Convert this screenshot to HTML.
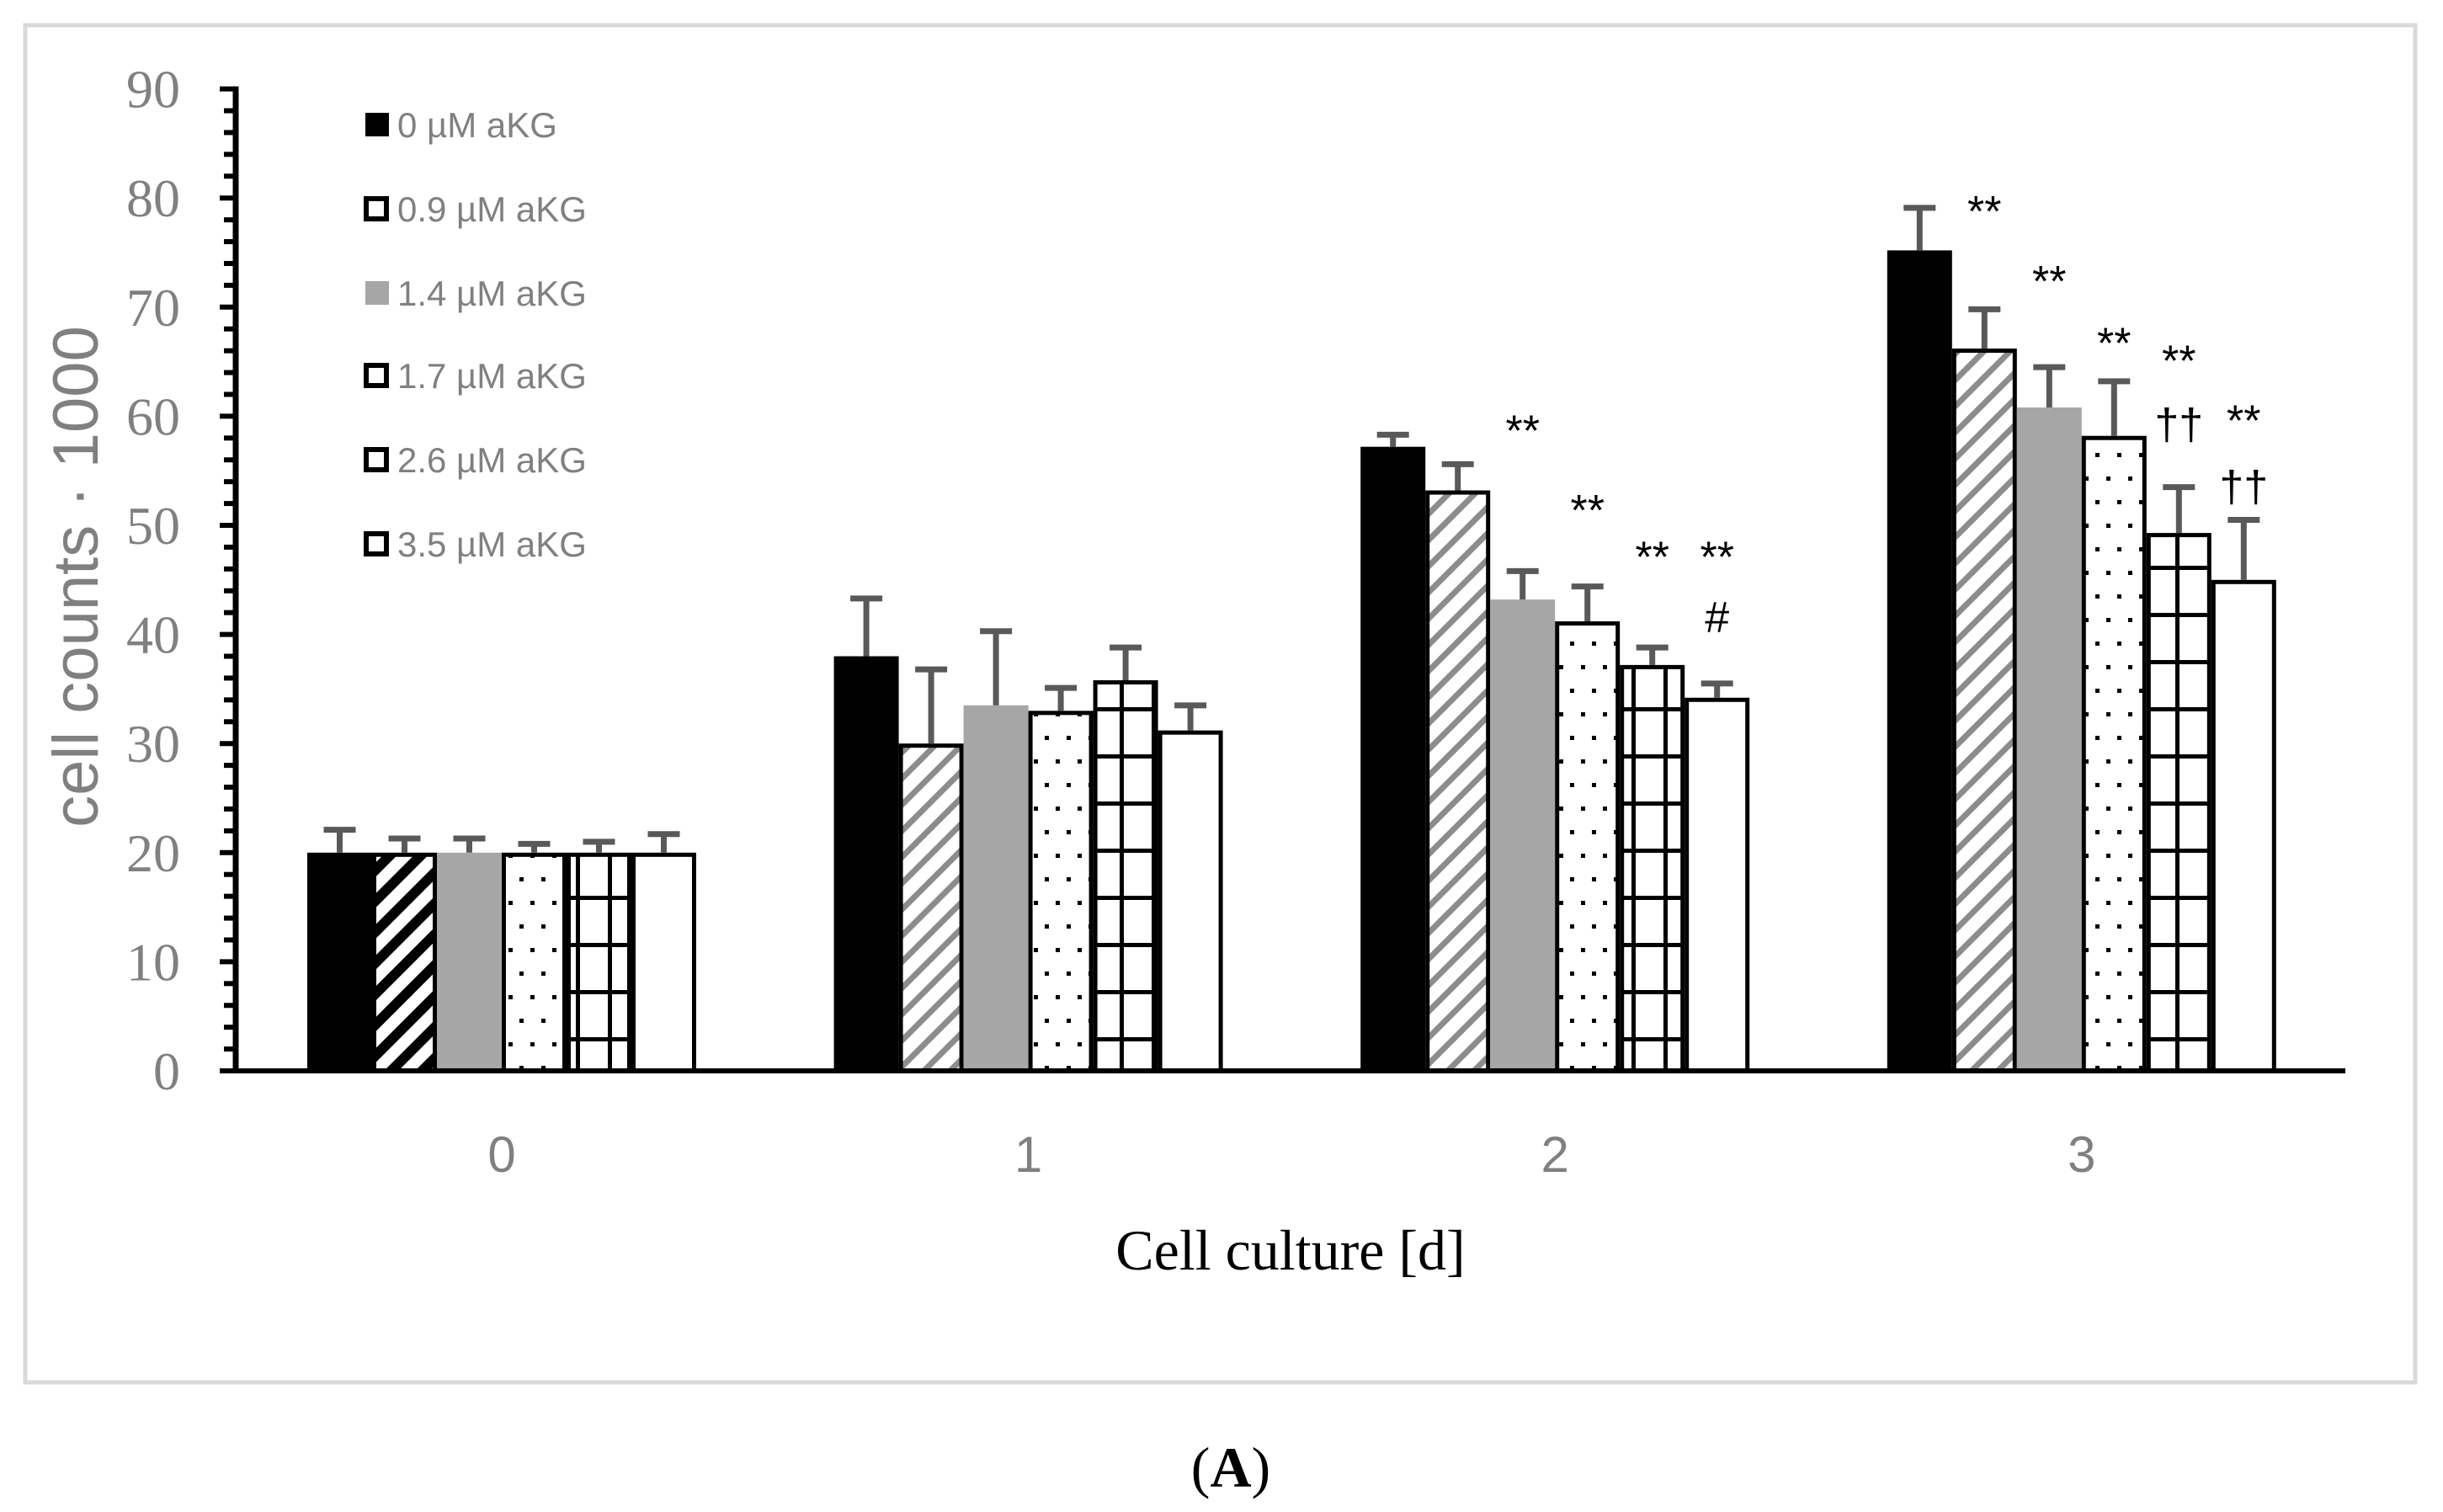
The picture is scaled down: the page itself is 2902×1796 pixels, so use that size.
<!DOCTYPE html>
<html><head><meta charset="utf-8"><style>
html,body{margin:0;padding:0;background:#fff;}
svg{display:block;}
</style></head><body>
<svg id="chart" width="2902" height="1796" viewBox="0 0 2902 1796" xmlns="http://www.w3.org/2000/svg">
<defs>
<pattern id="stripeBlack" patternUnits="userSpaceOnUse" width="26" height="26" patternTransform="rotate(45)"><rect width="26" height="26" fill="#fff"/><rect width="12" height="26" fill="#000"/></pattern>
<pattern id="stripeGray" patternUnits="userSpaceOnUse" width="22" height="22" patternTransform="rotate(45)"><rect width="22" height="22" fill="#fff"/><rect width="7" height="22" fill="#8c8c8c"/></pattern>
<pattern id="dots" patternUnits="userSpaceOnUse" width="26" height="56"><rect width="26" height="56" fill="#fff"/><rect x="6" y="6" width="5" height="5" fill="#000"/><rect x="19" y="34" width="5" height="5" fill="#000"/></pattern>
<pattern id="grid" patternUnits="userSpaceOnUse" width="38" height="56" x="0" y="0"><rect width="38" height="56" fill="#fff"/><rect x="0" y="0" width="5" height="56" fill="#000"/><rect x="0" y="0" width="38" height="5" fill="#000"/></pattern>
</defs>
<rect x="30" y="30" width="2839" height="1612" fill="#fff" stroke="#d9d9d9" stroke-width="5"/>
<g id="plot"></g>
<text x="1533" y="1508" font-family="Liberation Serif, serif" font-size="68" text-anchor="middle" fill="#000">Cell culture [d]</text>
<text x="96" y="685" font-family="Liberation Sans, sans-serif" font-size="76" text-anchor="middle" fill="#808080" transform="rotate(-90 96 685)" dominant-baseline="middle">cell counts · 1000</text>
<text x="1462" y="1766" font-family="Liberation Serif, serif" font-size="68" text-anchor="middle" fill="#000">(<tspan font-weight="bold">A</tspan>)</text>
</svg>
<script>
const categories = ["0","1","2","3"];
const seriesNames = ["0 µM aKG","0.9 µM aKG","1.4 µM aKG","1.7 µM aKG","2.6 µM aKG","3.5 µM aKG"];
const s0 = [20, 38, 57.2, 75.2];
const s1 = [20, 30, 53.2, 66.2];
const s2 = [20, 33.5, 43.2, 60.8];
const s3 = [20, 33, 41.2, 58.2];
const s4 = [20, 35.8, 37.2, 49.3];
const s5 = [20, 31.2, 34.2, 45];
const e0 = [22.1, 43.3, 58.3, 79.1];
const e1 = [21.3, 36.8, 55.6, 69.8];
const e2 = [21.3, 40.3, 45.8, 64.5];
const e3 = [20.8, 35.1, 44.4, 63.2];
const e4 = [21.0, 38.8, 38.8, 53.5];
const e5 = [21.7, 33.5, 35.5, 50.5];
const yTicks = [0,10,20,30,40,50,60,70,80,90];
const annCat = [2,2,2,2,2,3,3,3,3,3,3,3];
const annSer = [2,3,4,5,5,1,2,3,4,4,5,5];
const annVal = [59,51.7,47.4,47.4,41.9,79.1,72.7,67,65.4,59.6,59.9,53.9];
const annText = ["**","**","**","**","#","**","**","**","**","††","**","††"];

const NS="http://www.w3.org/2000/svg";
const plot=document.getElementById('plot');
const y0=1272, pxPer=12.96;
const yS=v=>y0-v*pxPer;
const catX=i=>596+i*625.6;
const bw=77;
const barX=(c,s)=>catX(c)-3*bw+s*bw;
function mk(t,a){const e=document.createElementNS(NS,t);for(const k in a)e.setAttribute(k,a[k]);plot.appendChild(e);return e;}
const vals=[s0,s1,s2,s3,s4,s5], errs=[e0,e1,e2,e3,e4,e5];
function fillFor(s,c){
  if(s===0) return "#000";
  if(s===1) return c===0?"url(#stripeBlack)":"url(#stripeGray)";
  if(s===2) return "#a6a6a6";
  if(s===3) return "url(#dots)";
  if(s===4) return "url(#grid)";
  return "#fff";
}
for(let c=0;c<categories.length;c++){
  for(let s=0;s<6;s++){
    const v=vals[s][c];
    const x=barX(c,s), y=yS(v);
    const solid=(s===0||s===2);
    const r=mk('rect',{x:x+(solid?0:2.5),y:y+(solid?0:2.5),width:bw-(solid?0:5),height:y0-y-(solid?0:2.5),fill:fillFor(s,c),stroke:solid?'none':'#000','stroke-width':5});
    
    
    const cx=x+bw/2, ye=yS(errs[s][c]);
    const l=mk('path',{d:`M${cx},${y} L${cx},${ye} M${cx-19},${ye} L${cx+19},${ye}`,stroke:'#595959','stroke-width':7,fill:'none'});
    
    
  }
}
const ax=mk('line',{x1:280,y1:yS(90)-3,x2:280,y2:y0+3,stroke:'#000','stroke-width':7});


for(let v=0;v<=90;v+=2){
  const major=(v%10===0);
  const t=mk('line',{x1:major?261:266,y1:yS(v),x2:280,y2:yS(v),stroke:'#000','stroke-width':6});
  
  
}
const xa=mk('line',{x1:264,y1:y0,x2:2786,y2:y0,stroke:'#000','stroke-width':6});


yTicks.forEach(v=>{
  const t=mk('text',{x:214,y:yS(v)+22,'font-family':'Liberation Serif, serif','font-size':64,'text-anchor':'end',fill:'#808080'});
  t.textContent=v;
  
  
});
categories.forEach((c,i)=>{
  const t=mk('text',{x:catX(i),y:1392,'font-family':'Liberation Sans, sans-serif','font-size':60,'text-anchor':'middle',fill:'#808080'});
  t.textContent=c;
  
  
});
annText.forEach((s,i)=>{
  const t=mk('text',{x:barX(annCat[i],annSer[i])+bw/2,y:yS(annVal[i])+22,'font-family':'Liberation Sans, sans-serif','font-size':52,'text-anchor':'middle',fill:'#000'});
  t.textContent=s;
  
  
});
const legY=[148,248,348,446,546,646];
seriesNames.forEach((n,i)=>{
  const y=legY[i];
  const solid=(i===0||i===2);
  const r=mk('rect',{x:solid?434:435,y:y-14+(solid?0:2),width:solid?28:24,height:solid?28:24,fill:i===0?'#000':(i===2?'#a6a6a6':'#fff'),stroke:solid?'none':'#000','stroke-width':6});
  
  
  const t=mk('text',{x:472,y:y+15,'font-family':'Liberation Sans, sans-serif','font-size':42,fill:'#808080'});
  t.textContent=n;
  
  
});
</script>
</body></html>
